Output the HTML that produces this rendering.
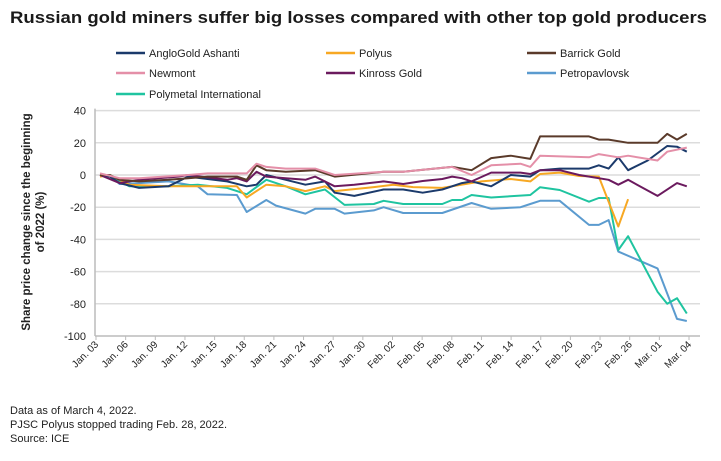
<!DOCTYPE html>
<html><head><meta charset="utf-8"><style>
html,body{margin:0;padding:0;background:#fff;}
svg{display:block;font-family:"Liberation Sans",sans-serif;}
</style></head><body>
<svg id="chart" width="721" height="461" viewBox="0 0 721 461">
<text x="10" y="23" font-size="17" font-weight="bold" fill="#1a1a1a" textLength="697" lengthAdjust="spacingAndGlyphs">Russian gold miners suffer big losses compared with other top gold producers</text>
<g id="legend"></g>
<g id="grid"></g>
<g id="yticks"></g>
<g id="xticks"></g>
<g id="series"></g>
<text transform="translate(30,222) rotate(-90)" text-anchor="middle" font-size="11.5" font-weight="bold" fill="#222"><tspan x="0" dy="0">Share price change since the beginning</tspan><tspan x="0" dy="14">of 2022 (%)</tspan></text>
<g font-size="11" fill="#222">
<text x="10" y="414">Data as of March 4, 2022.</text>
<text x="10" y="428">PJSC Polyus stopped trading Feb. 28, 2022.</text>
<text x="10" y="442">Source: ICE</text>
</g>
</svg>
<script>
const tickLabels = ["Jan. 03","Jan. 06","Jan. 09","Jan. 12","Jan. 15","Jan. 18","Jan. 21","Jan. 24","Jan. 27","Jan. 30","Feb. 02","Feb. 05","Feb. 08","Feb. 11","Feb. 14","Feb. 17","Feb. 20","Feb. 23","Feb. 26","Mar. 01","Mar. 04"];
const yTicks = [40,20,0,-20,-40,-60,-80,-100];
const seriesNames = ["AngloGold Ashanti","Polyus","Barrick Gold","Newmont","Kinross Gold","Petropavlovsk","Polymetal International"];
const seriesColors = ["#1b3a6b","#f7a823","#5a3a2a","#e48fa8","#6b1a5e","#5b9bcf","#1fc4a0"];
// days since Jan 3, 2022 and % change
const angloDays = [0,1,2,4,7,9,13,15,16,17,19,21,23,24,26,29,31,33,35,37,38,40,42,44,45,47,50,51,52,53,54,56,58,59,60];
const angloVals = [0,-1,-5,-8,-7,-1,-4,-7,-6,0,-3,-6,-4,-11,-13,-9,-9,-11,-9,-5,-4,-7,0,-1,3,4,4,6,4,11,3,9,18,17.6,14.5];
const polyusDays = [0,1,3,7,10,14,15,17,19,21,23,24,28,30,32,35,37,39,42,44,45,47,49,51,53,54];
const polyusVals = [-1,0,-6,-7,-7,-7,-14,-6,-7,-10,-7,-10,-7.5,-6,-7.5,-8,-6,-4,-2.5,-4,0.6,1.5,-0.6,-1,-32,-15];
const barrickDays = [0,1,2,4,7,9,11,14,15,16,17,19,22,24,29,31,36,38,40,42,44,45,49,50,51,52,54,57,58,59,60];
const barrickVals = [0,0,-3,-4,-3,-2,-1,-1,-3,6,3,2,3,-1,2,2,5,3,10.5,12,10,24,24,24,22,22,20,20,25.5,22,25.5];
const newmontDays = [0,2,4,9,11,15,16,17,19,22,24,29,31,36,38,40,43,44,45,50,51,53,54,57,58,60];
const newmontVals = [1,-2,-2,0,1,1,7,5,4,4,0,2,2,5,0,6,7,5,12,11,13,11,12,9,14.5,17];
const kinrossDays = [0,2,4,8,9,13,14,15,16,17,19,21,22,24,26,29,31,33,35,36,37,38,40,43,44,45,47,49,52,53,54,57,59,60];
const kinrossVals = [0,-5,-3,-1,0,-3,-2,-4,2,-1,-2,-3,-1,-7,-6,-4,-5.6,-3.7,-2.5,-1,-2,-4,1.5,1.5,0.6,3,3,0,-3,-6,-3,-13,-5,-7];
const petroDays = [0,1,2,4,7,10,11,14,15,17,18,21,22,24,25,28,29,31,35,38,40,43,44,45,47,50,51,52,53,57,59,60];
const petroVals = [0,0,-5.6,-5,-4,-7,-12,-12.4,-23,-15.5,-19,-24,-21,-21,-24,-22,-20,-23.6,-23.6,-17.4,-21,-20,-18,-16,-16,-31,-31,-28,-47.6,-58,-89.4,-90.7];
const polyDays = [0,1,3,7,10,13,14,15,17,19,21,23,25,28,29,31,35,36,37,38,40,44,45,47,50,51,52,53,54,57,58,59,60];
const polyVals = [0,0,-7,-7,-6,-8,-10,-12,-3,-7,-12,-9,-18.6,-18,-16,-18,-18,-15.5,-15.5,-12.4,-14,-12.4,-7.6,-9.3,-16.6,-14.3,-14.3,-46.6,-38,-72.5,-80,-76.5,-86];

const NS = "http://www.w3.org/2000/svg";
const x0 = 100, xStep = 9.78;
const xScale = d => x0 + d * xStep;
const yScale = v => 175 - v * 1.61;
const tickX = i => 96 + i * 29.65;
function mk(tag, attrs, parent){ const e=document.createElementNS(NS,tag); for(const k in attrs) e.setAttribute(k,attrs[k]); parent.appendChild(e); return e; }

const grid = document.getElementById('grid');
const yt = document.getElementById('yticks');
yTicks.forEach(v => {
  if (v !== -100) {
    const l = mk('line',{x1:95,x2:700,y1:yScale(v),y2:yScale(v),stroke:'#dcdcdc','stroke-width':1.5},grid);
    
    
  }
  const t = mk('text',{x:86,y:yScale(v)+4,'text-anchor':'end','font-size':11,fill:'#222'},yt);
  t.textContent = v;
  
  
});
const yAxis = mk('line',{x1:95,x2:95,y1:yScale(40)-2,y2:yScale(-100),stroke:'#bbb','stroke-width':1.5},yt);



const xt = document.getElementById('xticks');
const xAxis = mk('line',{x1:95,x2:700,y1:yScale(-100),y2:yScale(-100),stroke:'#bbb','stroke-width':1.5},xt);


tickLabels.forEach((lab,i) => {
  const x = tickX(i);
  const tk = mk('line',{x1:x,x2:x,y1:yScale(-100),y2:yScale(-100)+4,stroke:'#bbb','stroke-width':1},xt);
  
  
  const t = mk('text',{transform:`translate(${x+3},${yScale(-100)+9}) rotate(-45)`,'text-anchor':'end','font-size':10,fill:'#222'},xt);
  t.textContent = lab;
  
  
});

const sg = document.getElementById('series');
const allDays = [angloDays,polyusDays,barrickDays,newmontDays,kinrossDays,petroDays,polyDays];
const allVals = [angloVals,polyusVals,barrickVals,newmontVals,kinrossVals,petroVals,polyVals];
const drawOrder = [5,6,1,0,4,2,3];
drawOrder.forEach(s => {
  const pts = allDays[s].map((d,i) => xScale(d).toFixed(1)+','+yScale(allVals[s][i]).toFixed(1)).join(' ');
  const p = mk('polyline',{points:pts,fill:'none',stroke:seriesColors[s],'stroke-width':2,'stroke-linejoin':'round'},sg);
  
  
});

const lg = document.getElementById('legend');
const legX = [116,326,527], legY = [53,73,94];
seriesNames.forEach((n,i) => {
  const cx = legX[i%3], cy = legY[Math.floor(i/3)];
  const g = mk('g',{},lg);
  
  
  mk('line',{x1:cx,x2:cx+29,y1:cy,y2:cy,stroke:seriesColors[i],'stroke-width':2.5},g);
  const t = mk('text',{x:cx+33,y:cy+4,'font-size':11,fill:'#222'},g);
  t.textContent = n;
});
</script>
</body></html>
